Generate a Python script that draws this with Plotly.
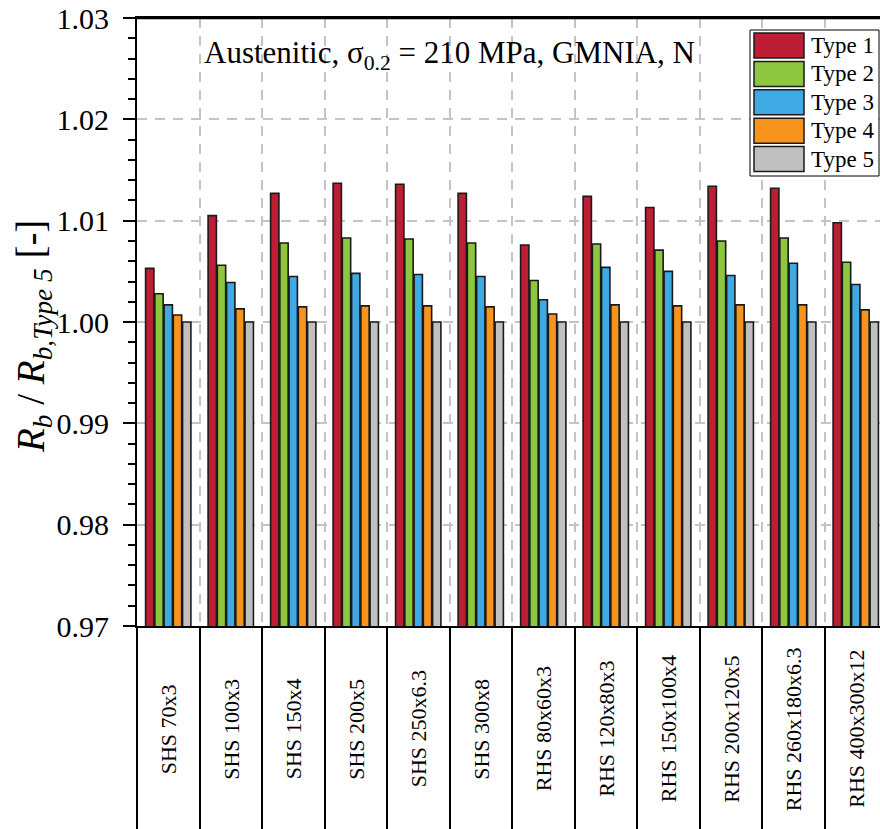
import plotly.graph_objects as go

categories = ["SHS 70x3", "SHS 100x3", "SHS 150x4", "SHS 200x5", "SHS 250x6.3", "SHS 300x8",
              "RHS 80x60x3", "RHS 120x80x3", "RHS 150x100x4", "RHS 200x120x5",
              "RHS 260x180x6.3", "RHS 400x300x12"]
type1 = [1.0053, 1.0105, 1.0127, 1.0137, 1.0136, 1.0127, 1.0076, 1.0124, 1.0113, 1.0134, 1.0132, 1.0098]
type2 = [1.0028, 1.0056, 1.0078, 1.0083, 1.0082, 1.0078, 1.0041, 1.0077, 1.0071, 1.0080, 1.0083, 1.0059]
type3 = [1.0017, 1.0039, 1.0045, 1.0048, 1.0047, 1.0045, 1.0022, 1.0054, 1.0050, 1.0046, 1.0058, 1.0037]
type4 = [1.0007, 1.0013, 1.0015, 1.0016, 1.0016, 1.0015, 1.0008, 1.0017, 1.0016, 1.0017, 1.0017, 1.0012]
type5 = [1.0000] * 12
series_names = ["Type 1", "Type 2", "Type 3", "Type 4", "Type 5"]
colors = ["#BE1E34", "#8DC63F", "#3FA9E4", "#F7941D", "#C0C0C0"]
y_ticks = [0.97, 0.98, 0.99, 1.00, 1.01, 1.02, 1.03]

FONT = "Liberation Serif, Times New Roman, serif"
W, H = 880, 829
ML, MR, MT = 137, 0, 18
MB = H - 626
PW, PH = W - ML - MR, H - MT - MB


def px(X):  # reference x pixel -> paper
    return (X - ML) / PW


def py(Y):  # reference y pixel -> paper
    return (H - MB - Y) / PH


fig = go.Figure()
for name, vals, col in zip(series_names, [type1, type2, type3, type4, type5], colors):
    fig.add_trace(go.Bar(
        x=categories, y=vals, name=name,
        marker=dict(color=col, line=dict(color="#1a1a1a", width=1.6)),
        showlegend=False,
    ))

cat_px = 62.5
xmax = -0.5 + PW / cat_px

fig.update_layout(
    width=W, height=H,
    margin=dict(l=ML, r=MR, t=MT, b=MB, pad=0),
    paper_bgcolor="white", plot_bgcolor="white",
    barmode="group", bargap=0.26, bargroupgap=0.1,
    font=dict(family=FONT, color="black"),
    xaxis=dict(
        type="category", range=[-0.5, xmax],
        tickson="boundaries", ticks="outside", ticklen=MB, tickwidth=2, tickcolor="black",
        showticklabels=False,
        showline=True, linecolor="black", linewidth=2, mirror=True,
        showgrid=True, gridcolor="#C4C4C4", gridwidth=2, griddash="10px,8px",
        zeroline=False,
    ),
    yaxis=dict(
        range=[0.97, 1.03001],
        tickvals=y_ticks,
        tickformat=".2f",
        ticks="outside", ticklen=12, tickwidth=2, tickcolor="black",
        minor=dict(dtick=0.002, tick0=0.97, ticks="outside", ticklen=7,
                   tickwidth=2, tickcolor="black", showgrid=False),
        showline=True, linecolor="black", linewidth=2,
        showgrid=True, gridcolor="#C4C4C4", gridwidth=2, griddash="10px,8px",
        zeroline=False,
        tickfont=dict(family=FONT, size=30, color="black"),
        ticklabelstandoff=8,
    ),
)

# top frame line
fig.add_shape(type="line", xref="paper", yref="paper", x0=0, x1=1, y0=1, y1=1,
              line=dict(color="black", width=2.5), layer="above")

# y-axis title
fig.add_annotation(
    text="<i>R<sub>b</sub></i> / <i>R<sub>b,Type 5</sub></i> [-]",
    xref="paper", yref="paper", x=px(33), y=py(337),
    xanchor="center", yanchor="middle", textangle=-90, showarrow=False,
    font=dict(family=FONT, size=39, color="black"),
)

fig.add_annotation(
    text="Austenitic, σ<sub>0.2</sub> = 210 MPa, GMNIA, N",
    xref="paper", yref="paper", x=px(202), y=py(55),
    xanchor="left", yanchor="middle", showarrow=False,
    font=dict(family=FONT, size=31, color="black"),
)

# category labels below the axis
for c in categories:
    fig.add_annotation(
        text=c, x=c, xref="x", y=py(729), yref="paper",
        textangle=-90, showarrow=False, xanchor="center", yanchor="middle",
        font=dict(family=FONT, size=22, color="black"),
    )

# legend box with large swatches
LX0, LX1, LY0 = 750, 879, 30
pitch = 28.4
LY1 = LY0 + 3 + pitch * len(series_names) + 1
fig.add_shape(type="rect", xref="paper", yref="paper",
              x0=px(LX0), x1=px(LX1), y0=py(LY0), y1=py(LY1),
              fillcolor="white", line=dict(color="black", width=1), layer="above")
for i, (name, col) in enumerate(zip(series_names, colors)):
    top = LY0 + 3 + i * pitch
    fig.add_shape(type="rect", xref="paper", yref="paper",
                  x0=px(754), x1=px(804), y0=py(top), y1=py(top + 25),
                  fillcolor=col, line=dict(color="#1a1a1a", width=1.5), layer="above")
    fig.add_annotation(text=name, xref="paper", yref="paper",
                       x=px(809), y=py(top + 12.5), xanchor="left", yanchor="middle",
                       showarrow=False, font=dict(family=FONT, size=23, color="black"))

fig.write_html("out.html", config={"displayModeBar": False},
               post_script="document.body.style.margin='0';document.body.style.overflow='hidden';")
